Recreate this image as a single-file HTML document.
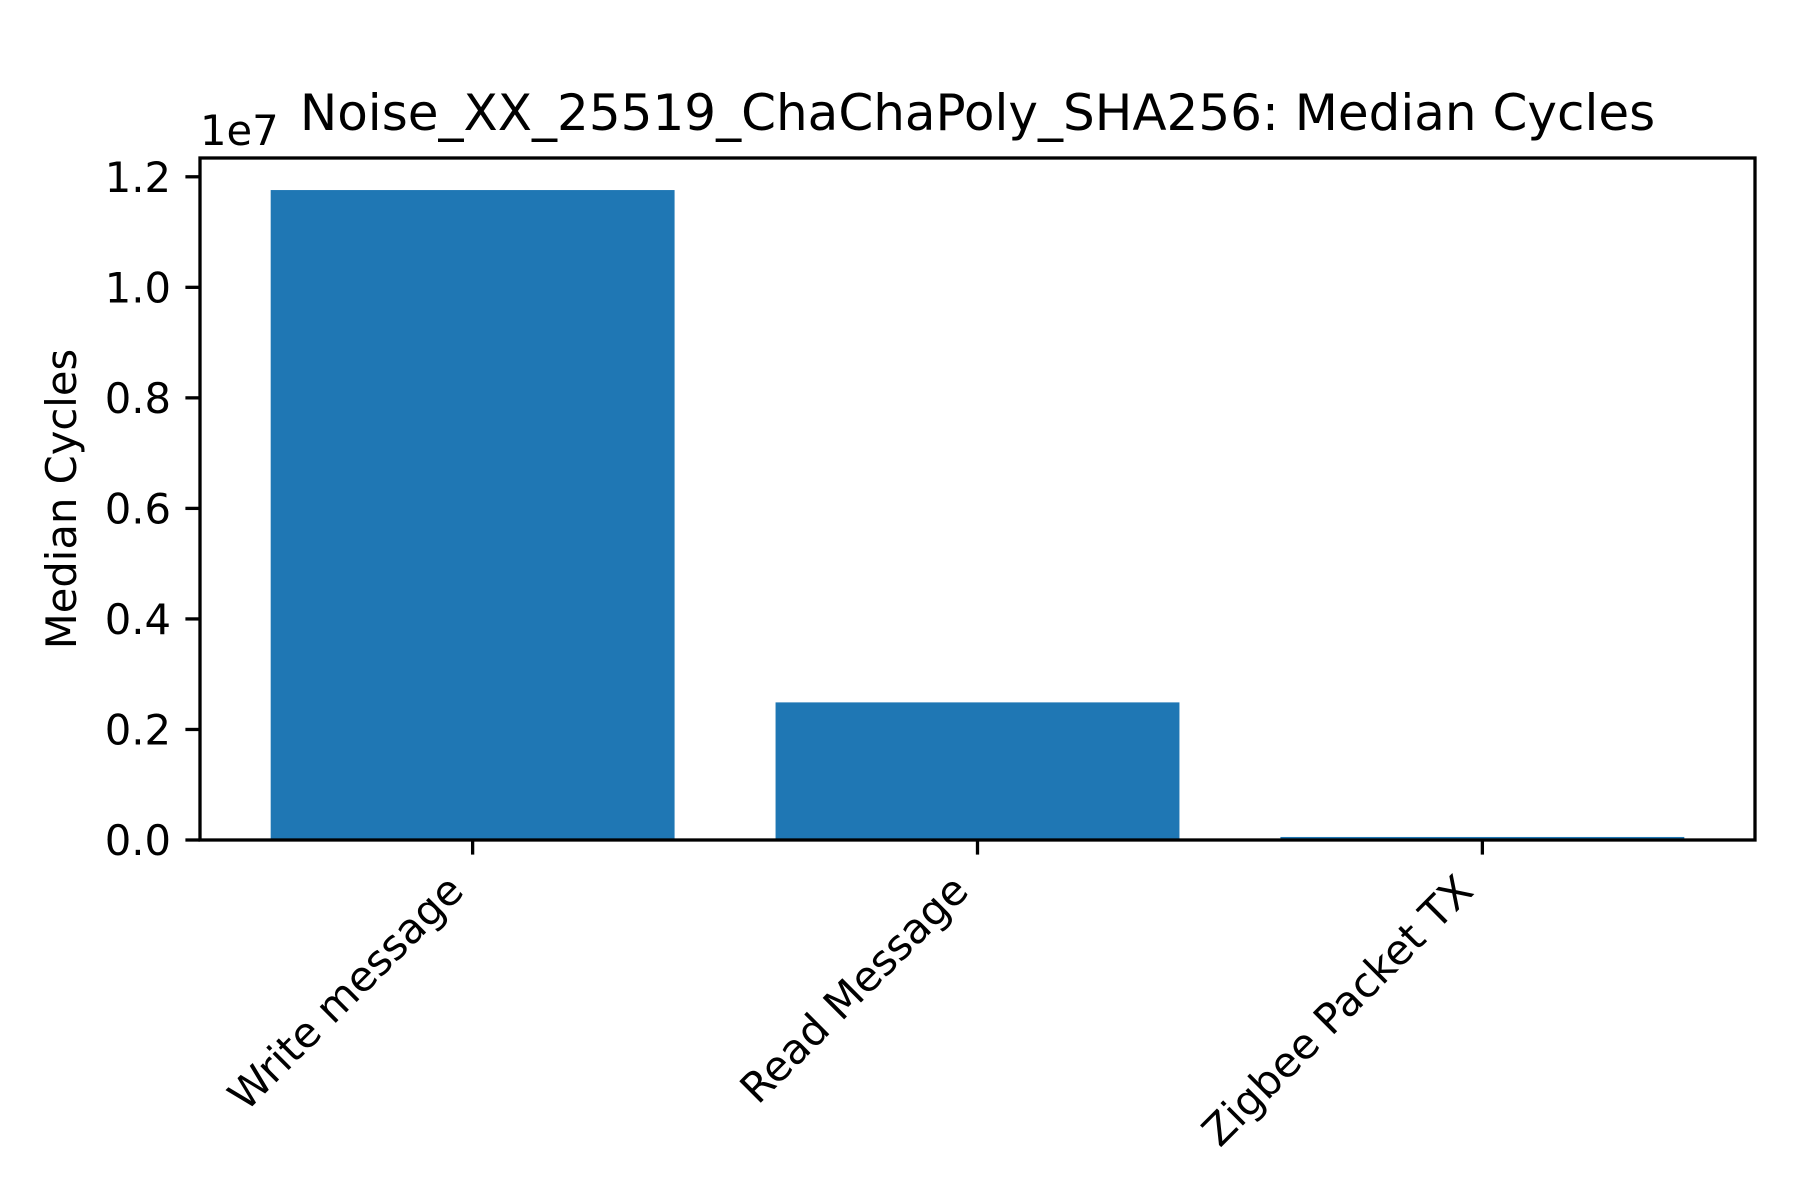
<!DOCTYPE html>
<html><head><meta charset="utf-8"><style>
html,body{margin:0;padding:0;background:#fff;}
svg{display:block;font-family:"DejaVu Sans","Liberation Sans",sans-serif;}
</style></head>
<body>
<svg id="chart" width="1800" height="1200" viewBox="0 0 1800 1200">
<rect width="1800" height="1200" fill="#fff"/>
<g id="bars"></g>
<g id="axes"></g>
<text x="977.5" y="130" font-size="50" text-anchor="middle" fill="#000">Noise_XX_25519_ChaChaPoly_SHA256: Median Cycles</text>
<text x="200" y="145" font-size="41.7" fill="#000">1e7</text>
<text transform="translate(76,499) rotate(-90)" font-size="41.7" text-anchor="middle" fill="#000">Median Cycles</text>
</svg>
<script>
const categories = ["Write message", "Read Message", "Zigbee Packet TX"];
const values = [11760000, 2490000, 55000];
const yTicks = [0, 0.2e7, 0.4e7, 0.6e7, 0.8e7, 1.0e7, 1.2e7];
const yTickLabels = ["0.0", "0.2", "0.4", "0.6", "0.8", "1.0", "1.2"];

const L = 200, R = 1755, T = 158, B = 840;
const xMin = -0.54, xMax = categories.length - 1 + 0.54;
const yMax = 1.234e7;
const xs = v => L + (v - xMin) / (xMax - xMin) * (R - L);
const ys = v => B - v / yMax * (B - T);
const NS = "http://www.w3.org/2000/svg";
const barsG = document.getElementById('bars');
const axesG = document.getElementById('axes');
function mk(tag, attrs, parent) {
  const e = document.createElementNS(NS, tag);
  for (const k in attrs) e.setAttribute(k, attrs[k]);
  parent.appendChild(e);
  return e;
}
const bw = 0.8;
categories.forEach((c, i) => {
  const x0 = xs(i - bw / 2), x1 = xs(i + bw / 2);
  const r = mk('rect', {x: x0, y: ys(values[i]), width: x1 - x0, height: B - ys(values[i]), fill: '#1f77b4'}, barsG);
  
  
  const tx = xs(i);
  const t = mk('line', {x1: tx, x2: tx, y1: B, y2: B + 14.6, stroke: '#000', 'stroke-width': 3.3}, axesG);
  
  
  const lb = mk('text', {transform: `translate(${tx - 7},${B + 53}) rotate(-45)`, 'font-size': 41.7, 'text-anchor': 'end', fill: '#000'}, axesG);
  lb.textContent = c;
  
  
});
yTicks.forEach((v, i) => {
  const y = ys(v);
  const t = mk('line', {x1: L - 14.6, x2: L, y1: y, y2: y, stroke: '#000', 'stroke-width': 3.3}, axesG);
  
  
  const lb = mk('text', {x: L - 29, y: y + 15, 'font-size': 41.7, 'text-anchor': 'end', fill: '#000'}, axesG);
  lb.textContent = yTickLabels[i];
  
  
});
const frame = mk('rect', {x: L, y: T, width: R - L, height: B - T, fill: 'none', stroke: '#000', 'stroke-width': 3.3}, axesG);


</script>
</body></html>
